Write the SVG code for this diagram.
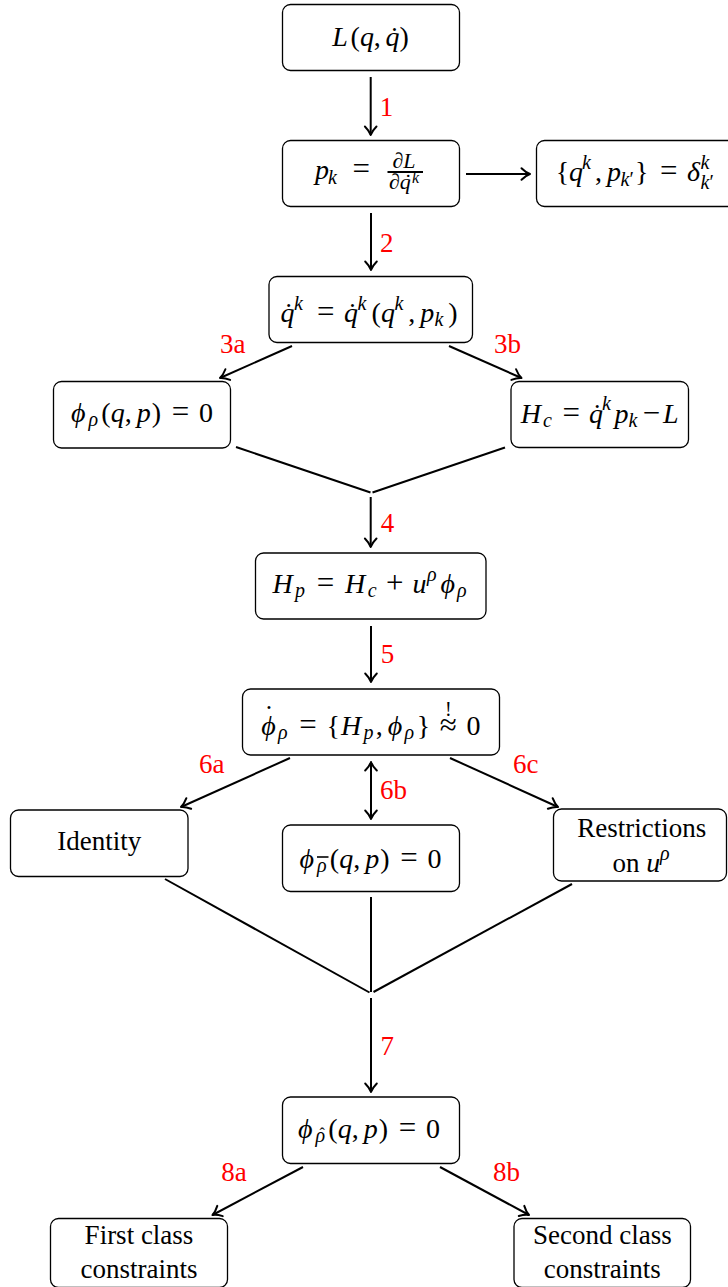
<svg xmlns="http://www.w3.org/2000/svg" width="728" height="1287" viewBox="0 0 728 1287">
<style>
.box{fill:#fff;stroke:#000;stroke-width:1.3}
.t{font-family:"Liberation Serif","Times New Roman",serif;font-size:27px;fill:#000}
.m{font-family:"Liberation Serif","Times New Roman","DejaVu Serif",serif;font-size:28px;fill:#000}
.i{font-style:italic}
.s{font-size:20px}
.ss{font-size:16px}
.f{font-size:22px}
.op{font-size:31px}
.lab{font-family:"Liberation Serif","Times New Roman",serif;font-size:27px;fill:#ff0000}
.c{fill:none;stroke:#000;stroke-width:2}
.ar{marker-end:url(#ah)}
.rule{stroke:#000;stroke-width:2}
</style>
<defs>
<marker id="ah" markerUnits="userSpaceOnUse" markerWidth="16" markerHeight="16" viewBox="-12 -8 16 16" refX="0" refY="0" orient="auto-start-reverse" overflow="visible">
<path d="M-8.5,-5.8 C-5,-2.3 -2,-0.7 0,0 C-2,0.7 -5,2.3 -8.5,5.8" fill="none" stroke="#000" stroke-width="2" stroke-linecap="round" stroke-linejoin="round"/>
</marker>
</defs>
<rect width="728" height="1287" fill="#fff"/>

<g id="connectors">
<line class="c ar" x1="370.7" y1="77" x2="370.7" y2="135"/>
<line class="c ar" x1="371" y1="213" x2="371" y2="270"/>
<line class="c ar" x1="466" y1="174" x2="530" y2="174"/>
<line class="c ar" x1="292" y1="346" x2="220" y2="378"/>
<line class="c ar" x1="449" y1="346" x2="521.5" y2="378"/>
<line class="c" x1="236" y1="447" x2="370.5" y2="492.5"/>
<line class="c" x1="505" y1="447.5" x2="372.5" y2="492.5"/>
<line class="c ar" x1="370.7" y1="497" x2="370.7" y2="547"/>
<line class="c ar" x1="371" y1="626" x2="371" y2="682"/>
<line class="c ar" x1="290" y1="758" x2="181" y2="807"/>
<line class="c ar" x1="371" y1="762" x2="371" y2="819" marker-start="url(#ah)"/>
<line class="c ar" x1="450" y1="758" x2="558" y2="807"/>
<line class="c" x1="165" y1="879" x2="369.5" y2="992.5"/>
<line class="c" x1="371" y1="897" x2="371" y2="992"/>
<line class="c" x1="572" y1="884" x2="373.5" y2="992"/>
<line class="c ar" x1="371" y1="998" x2="371" y2="1092"/>
<line class="c ar" x1="303" y1="1167" x2="212.5" y2="1215"/>
<line class="c ar" x1="440" y1="1167" x2="529" y2="1215"/>
</g>

<g id="edge-labels">
<text class="lab" x="379.7" y="116">1</text>
<text class="lab" x="380" y="252">2</text>
<text class="lab" x="220" y="353">3a</text>
<text class="lab" x="494" y="353">3b</text>
<text class="lab" x="380.7" y="531.5">4</text>
<text class="lab" x="380.8" y="663.3">5</text>
<text class="lab" x="199" y="773">6a</text>
<text class="lab" x="380" y="799">6b</text>
<text class="lab" x="513" y="773">6c</text>
<text class="lab" x="380.5" y="1055">7</text>
<text class="lab" x="221.3" y="1181">8a</text>
<text class="lab" x="493" y="1181">8b</text>
</g>

<g id="n-lagrangian">
<rect class="box" x="282.5" y="4.5" width="177" height="66" rx="8"/>
<text class="m"><tspan class="i" x="332.2" y="45.5">L</tspan><tspan x="350.4" y="45.5">(</tspan><tspan class="i" x="360" y="45.5">q</tspan><tspan x="373.8" y="45.5">,</tspan><tspan class="i" x="385.4" y="45.5">q</tspan><tspan x="399.6" y="45.5">)</tspan><tspan x="389.8" y="45.5">˙</tspan></text>
</g>

<g id="n-momenta">
<rect class="box" x="282.5" y="140.5" width="177" height="66" rx="8"/>
<text class="m"><tspan class="i" x="315" y="179">p</tspan><tspan class="i s" x="328" y="183.5">k</tspan><tspan class="op" x="352.6" y="179">=</tspan><tspan class="i f" x="392.5" y="167.5">∂L</tspan><tspan class="i f" x="389" y="189">∂q</tspan><tspan class="i ss" x="412" y="182.5">k</tspan><tspan class="f" x="404.5" y="189">˙</tspan></text>
<line class="rule" x1="387.5" y1="172" x2="423" y2="172"/>
</g>

<g id="n-bracket">
<rect class="box" x="536.5" y="140.5" width="210" height="66" rx="8"/>
<text class="m"><tspan x="555.8" y="181">{</tspan><tspan class="i" x="569" y="181">q</tspan><tspan class="i s" x="582" y="169">k</tspan><tspan x="595" y="181">,</tspan><tspan class="i" x="607" y="181">p</tspan><tspan class="i s" x="620.5" y="185.5">k</tspan><tspan class="s">′</tspan><tspan x="635" y="181">}</tspan><tspan class="op" x="660" y="181">=</tspan><tspan class="i" x="687" y="181">δ</tspan><tspan class="i s" x="700.5" y="169">k</tspan><tspan class="i s" x="700.5" y="189">k</tspan><tspan class="s">′</tspan></text>
</g>

<g id="n-velocities">
<rect class="box" x="269" y="276.5" width="203.5" height="66" rx="8"/>
<text class="m"><tspan class="i" x="280.5" y="322">q</tspan><tspan class="i s" x="294" y="310">k</tspan><tspan class="op" x="317.1" y="322">=</tspan><tspan class="i" x="344" y="322">q</tspan><tspan class="i s" x="357.5" y="310">k</tspan><tspan x="371.5" y="322">(</tspan><tspan class="i" x="381.1" y="322">q</tspan><tspan class="i s" x="394.6" y="310">k</tspan><tspan x="408.2" y="322">,</tspan><tspan class="i" x="420.2" y="322">p</tspan><tspan class="i s" x="434.5" y="326.2">k</tspan><tspan x="448.3" y="322">)</tspan><tspan x="284.1" y="322">˙</tspan><tspan x="347.7" y="322">˙</tspan></text>
</g>

<g id="n-primary">
<rect class="box" x="53.5" y="381.5" width="177" height="66.5" rx="8"/>
<text class="m"><tspan class="i" x="71" y="422">ϕ</tspan><tspan class="i s" x="88.5" y="426.2">ρ</tspan><tspan x="101.2" y="422">(</tspan><tspan class="i" x="110.8" y="422">q</tspan><tspan x="124.7" y="422">,</tspan><tspan class="i" x="136.8" y="422">p</tspan><tspan x="151.7" y="422">)</tspan><tspan class="op" x="171.75" y="422">=</tspan><tspan x="199.1" y="422">0</tspan></text>
</g>

<g id="n-canonical">
<rect class="box" x="511" y="381.5" width="177.5" height="66" rx="8"/>
<text class="m"><tspan class="i" x="520.8" y="423">H</tspan><tspan class="i s" x="543" y="427.2">c</tspan><tspan class="op" x="562.5" y="423">=</tspan><tspan class="i" x="589" y="423">q</tspan><tspan class="i s" x="602" y="410">k</tspan><tspan class="i" x="614.6" y="423">p</tspan><tspan class="i s" x="628.5" y="427.2">k</tspan><tspan class="op" x="642.7" y="423">−</tspan><tspan class="i" x="663" y="423">L</tspan><tspan x="592.6" y="423">˙</tspan></text>
</g>

<g id="n-total">
<rect class="box" x="255.5" y="553" width="230.5" height="66" rx="8"/>
<text class="m"><tspan class="i" x="272.6" y="593">H</tspan><tspan class="i s" x="295" y="597.2">p</tspan><tspan class="op" x="316.75" y="593">=</tspan><tspan class="i" x="345" y="593">H</tspan><tspan class="i s" x="367.7" y="597.2">c</tspan><tspan class="op" x="386.1" y="593">+</tspan><tspan class="i" x="412.5" y="593">u</tspan><tspan class="i s" x="427" y="581">ρ</tspan><tspan class="i" x="440.5" y="593">ϕ</tspan><tspan class="i s" x="457" y="597.2">ρ</tspan></text>
</g>

<g id="n-consistency">
<rect class="box" x="242.5" y="689" width="257" height="66" rx="8"/>
<text class="m"><tspan class="i" x="261.3" y="735">ϕ</tspan><tspan class="i s" x="278" y="739.2">ρ</tspan><tspan class="op" x="299.35" y="735">=</tspan><tspan x="326.6" y="735">{</tspan><tspan class="i" x="341" y="735">H</tspan><tspan class="i s" x="363.5" y="739.2">p</tspan><tspan x="375.7" y="735">,</tspan><tspan class="i" x="387.8" y="735">ϕ</tspan><tspan class="i s" x="404.5" y="739.2">ρ</tspan><tspan x="416.7" y="735">}</tspan><tspan class="op" x="439.7" y="735">≈</tspan><tspan class="s" x="444.9" y="716">!</tspan><tspan x="466.4" y="735">0</tspan><tspan x="264.3" y="724">˙</tspan></text>
</g>

<g id="n-identity">
<rect class="box" x="10.5" y="810" width="177.5" height="66.5" rx="8"/>
<text class="t" x="99.3" y="850" text-anchor="middle">Identity</text>
</g>

<g id="n-secondary">
<rect class="box" x="282.5" y="825" width="177" height="66.5" rx="8"/>
<text class="m"><tspan class="i" x="299.5" y="868">ϕ</tspan><tspan class="i s" x="317" y="872.2">ρ</tspan><tspan x="329.7" y="868">(</tspan><tspan class="i" x="339.3" y="868">q</tspan><tspan x="353.2" y="868">,</tspan><tspan class="i" x="365.3" y="868">p</tspan><tspan x="380.2" y="868">)</tspan><tspan class="op" x="400.25" y="868">=</tspan><tspan x="427.6" y="868">0</tspan></text>
<line x1="317" y1="857" x2="328.5" y2="857" stroke="#000" stroke-width="1.6"/>
</g>

<g id="n-restrictions">
<rect class="box" x="553.5" y="809" width="173" height="72" rx="8"/>
<text class="t" x="641.8" y="837" text-anchor="middle">Restrictions</text>
<text class="t"><tspan x="612.5" y="872">on</tspan><tspan class="i m" x="646.2" y="872">u</tspan><tspan class="i m s" x="660" y="860">ρ</tspan></text>
</g>

<g id="n-final">
<rect class="box" x="282.5" y="1097" width="177" height="66.5" rx="8"/>
<text class="m"><tspan class="i" x="298" y="1138">ϕ</tspan><tspan class="i s" x="315.5" y="1142.2">ρ</tspan><tspan x="328.2" y="1138">(</tspan><tspan class="i" x="337.8" y="1138">q</tspan><tspan x="351.7" y="1138">,</tspan><tspan class="i" x="363.8" y="1138">p</tspan><tspan x="378.7" y="1138">)</tspan><tspan class="op" x="398.75" y="1138">=</tspan><tspan x="426.1" y="1138">0</tspan><tspan class="ss" x="319.5" y="1139">ˆ</tspan></text>
</g>

<g id="n-first-class">
<rect class="box" x="50.5" y="1218.5" width="177" height="69" rx="8"/>
<text class="t" x="139" y="1244" text-anchor="middle">First class</text>
<text class="t" x="139" y="1278" text-anchor="middle">constraints</text>
</g>

<g id="n-second-class">
<rect class="box" x="514" y="1218.5" width="176.5" height="69" rx="8"/>
<text class="t" x="602.3" y="1244" text-anchor="middle">Second class</text>
<text class="t" x="602.3" y="1278" text-anchor="middle">constraints</text>
</g>
</svg>
